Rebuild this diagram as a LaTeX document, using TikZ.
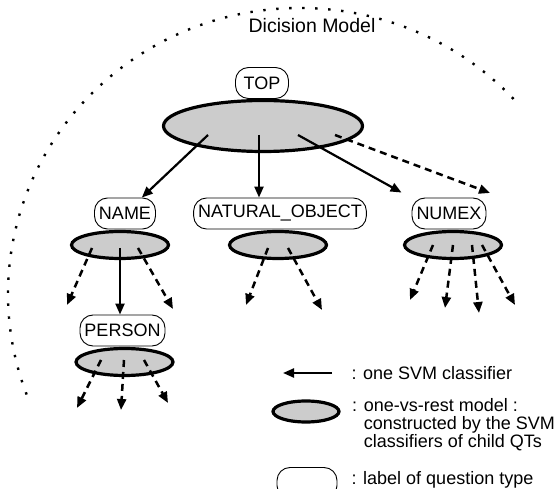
\documentclass[tikz,border=0pt]{standalone}
\usepackage{fontspec}
\setmainfont{Liberation Sans}
\usepackage{tikz}
\usetikzlibrary{shapes.geometric, arrows.meta, positioning}

\begin{document}
\begin{tikzpicture}[x=1pt, y=1pt, font=\fontsize{18}{17}\selectfont,
    qtlabel/.style={draw, line width=0.9pt, rounded corners=13pt, minimum height=31pt, inner xsep=4.5pt, inner ysep=0pt},
    ovrmodel/.style={draw, ellipse, line width=3.2pt, fill=black!20, inner sep=0pt},
    svm/.style={line width=2.2pt, -{Triangle[length=11pt, width=9pt]}},
    svmdash/.style={svm, line width=2.5pt, dash pattern=on 7pt off 5pt}]

        \useasboundingbox (0,0) rectangle (560,488);

        % decision model boundary
        \draw[line width=2.4pt, dash pattern=on 2.4pt off 10.6pt] (300,194) ++(43:292 and 286)
            arc[start angle=43, end angle=202.5, x radius=292, y radius=286];
        \node[font=\fontsize{19.5}{20}\selectfont] (title) at (312,462) {Dicision Model};

        % top level
        \node[qtlabel, minimum width=53pt] (top) at (262,405) {TOP};
        \node[ovrmodel, minimum width=199pt, minimum height=51pt] (topm) at (263,362) {};

        % second level
        \node[qtlabel] (name) at (125,274.5) {NAME};
        \node[ovrmodel, minimum width=97pt, minimum height=27pt] (namem) at (120,243) {};
        \node[qtlabel] (nat) at (280,274.5) {NATURAL\_OBJECT};
        \node[ovrmodel, minimum width=97pt, minimum height=27pt] (natm) at (278,243) {};
        \node[qtlabel] (numex) at (449,274.5) {NUMEX};
        \node[ovrmodel, minimum width=97pt, minimum height=27pt] (numexm) at (453,243) {};

        % third level
        \node[qtlabel] (person) at (122.5,157.5) {PERSON};
        \node[ovrmodel, minimum width=97pt, minimum height=27pt] (personm) at (124.5,126) {};

        % classifiers of TOP
        \coordinate (t1) at (208,353);
        \coordinate (t2) at (259,353);
        \coordinate (t3) at (298,353);
        \coordinate (t4) at (335,353);
        \coordinate (t4e) at (490,295);
        \draw[svm] (t1) -- (name);
        \draw[svm] (t2) -- (t2 |- nat.north);
        \draw[svm] (t3) -- ([shift={(-10,5)}]numex.north west);
        \draw[svmdash] (t4) -- (t4e);

        % classifiers of NAME
        \coordinate (n1) at (92,240);
        \coordinate (n2) at (120,240);
        \coordinate (n3) at (138,240);
        \draw[svm] (n2) -- (n2 |- person.north);
        \draw[svmdash] (n1) -- (67,183);
        \draw[svmdash] (n3) -- (173,179);

        % classifiers of PERSON
        \draw[svmdash] (101,128) -- (77,80);
        \draw[svmdash] (124,128) -- (121,78);
        \draw[svmdash] (144,128) -- (168,85);

        % classifiers of NATURAL_OBJECT
        \draw[svmdash] (268,240) -- (246,183);
        \draw[svmdash] (288,240) -- (322,178);

        % classifiers of NUMEX
        \draw[svmdash] (433,243) -- (410,188);
        \draw[svmdash] (453,243) -- (445,180);
        \draw[svmdash] (472,243) -- (479,175);
        \draw[svmdash] (482,243) -- (515,183);

        % legend
        \coordinate (la) at (332,115);
        \coordinate (lb) at (283,115);
        \draw[svm] (la) -- (lb);
        \node[anchor=west] (svmtxt) at (348,115) {: one SVM classifier};
        \node[ovrmodel, minimum width=66pt, minimum height=21pt] (lm) at (306,76.5) {};
        \node[anchor=north west, align=left, inner sep=0pt] (lmtxt) at (352,90)
            {: \begin{tabular}[t]{@{}l@{}}one-vs-rest model :\\constructed by the SVM\\classifiers of child QTs\end{tabular}};
        \node[qtlabel, minimum width=60pt] (lq) at (307,5) {};
        \node[anchor=west] (lqtxt) at (348,8) {: label of question type};
    \end{tikzpicture}
\end{document}
